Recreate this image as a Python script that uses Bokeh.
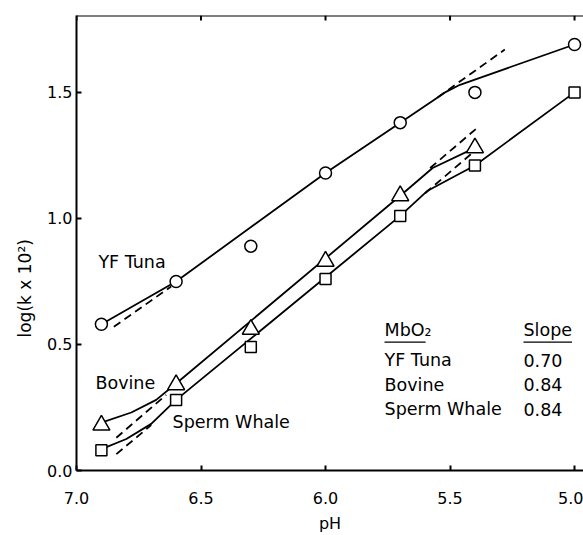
from bokeh.plotting import figure
from bokeh.models import Range1d, FixedTicker, Title, Span
from bokeh.core.properties import value
from bokeh.embed import file_html
from bokeh.resources import INLINE

FONT = "DejaVu Sans"

# ---- data ----
x_ticks = [7.0, 6.5, 6.0, 5.5, 5.0]
y_ticks = [0.0, 0.5, 1.0, 1.5]

tuna_ph = [6.9, 6.6, 6.3, 6.0, 5.7, 5.4, 5.0]
tuna_y = [0.58, 0.75, 0.89, 1.18, 1.38, 1.50, 1.69]
bovine_ph = [6.9, 6.6, 6.3, 6.0, 5.7, 5.4]
bovine_y = [0.18, 0.34, 0.56, 0.83, 1.09, 1.28]
whale_ph = [6.9, 6.6, 6.3, 6.0, 5.7, 5.4, 5.0]
whale_y = [0.08, 0.28, 0.49, 0.76, 1.01, 1.21, 1.50]

# hand-drawn solid curves
tuna_curve_ph = [6.9, 6.6, 6.0, 5.7, 5.52, 5.46, 5.0]
tuna_curve_y = [0.58, 0.75, 1.18, 1.38, 1.50, 1.53, 1.69]
bovine_curve_ph = [6.9, 6.78, 6.68, 6.6, 5.7, 5.57, 5.4]
bovine_curve_y = [0.19, 0.23, 0.28, 0.345, 1.09, 1.20, 1.28]
whale_curve_ph = [6.9, 6.8, 6.7, 6.6, 5.7, 5.59, 5.4, 5.0]
whale_curve_y = [0.085, 0.125, 0.185, 0.28, 1.01, 1.11, 1.21, 1.50]

# dashed slope lines (end pieces)
dash_ph = [[6.85, 6.62], [5.55, 5.28], [6.84, 6.64], [5.58, 5.39], [6.84, 6.70], [5.60, 5.41]]
dash_y = [[0.57, 0.73], [1.48, 1.67], [0.13, 0.30], [1.20, 1.36], [0.065, 0.18], [1.10, 1.26]]

species = ["YF Tuna", "Bovine", "Sperm Whale"]
slopes = ["0.70", "0.84", "0.84"]

Y_TOP = 1.805
p = figure(width=583, height=535, output_backend="svg", toolbar_location=None,
           x_range=Range1d(7.0, 4.964), y_range=Range1d(0.0, Y_TOP),
           min_border_left=76, min_border_right=0, min_border_top=15, min_border_bottom=65,
           background_fill_color="white", border_fill_color="white")
p.outline_line_color = None
p.grid.visible = False

for ax in (p.xaxis, p.yaxis):
    ax.axis_line_width = 2
    ax.axis_line_color = "black"
    ax.major_tick_line_width = 2
    ax.major_tick_in = 5
    ax.major_tick_out = 0
    ax.minor_tick_line_color = None
    ax.major_label_text_font = FONT
    ax.major_label_text_font_size = "16px"
    ax.major_label_text_color = "black"

p.xaxis.ticker = FixedTicker(ticks=x_ticks)
p.xaxis.major_label_overrides = {t: f"{t:.1f}" for t in x_ticks}
p.xaxis.major_label_standoff = 21
p.xaxis.axis_label = "pH"
p.xaxis.axis_label_text_font = FONT
p.xaxis.axis_label_text_font_size = "16px"
p.xaxis.axis_label_text_font_style = "normal"
p.xaxis.axis_label_text_color = "black"
p.xaxis.axis_label_standoff = 7

p.yaxis.ticker = FixedTicker(ticks=y_ticks)
p.yaxis.major_label_overrides = {t: f"{t:.1f}" for t in y_ticks}
p.yaxis.major_label_standoff = 4

# top frame line with inward ticks
p.add_layout(Span(location=Y_TOP, dimension="width", line_color="black", line_width=2))
p.segment(x0=x_ticks, y0=[Y_TOP] * len(x_ticks), x1=x_ticks,
          y1=[Y_TOP - 0.02] * len(x_ticks), line_color="black", line_width=2)

ylab = Title(text="log(k x 10²)", align="left", offset=133, standoff=20,
             text_font=FONT, text_font_size="17px", text_font_style="normal",
             text_color="black")
p.add_layout(ylab, "left")

# solid curves
for xs, ys in ((tuna_curve_ph, tuna_curve_y), (bovine_curve_ph, bovine_curve_y),
               (whale_curve_ph, whale_curve_y)):
    p.line(xs, ys, line_color="black", line_width=1.8)

p.multi_line(dash_ph, dash_y, line_color="black", line_width=1.8, line_dash="8 5")

p.scatter(tuna_ph, tuna_y, marker="circle", size=12, fill_color="white",
          line_color="black", line_width=1.5)
p.scatter(bovine_ph, bovine_y, marker="triangle", size=17, fill_color="white",
          line_color="black", line_width=1.5)
p.scatter(whale_ph, whale_y, marker="square", size=11, fill_color="white",
          line_color="black", line_width=1.5)

TS = "17.5px"
# curve labels
p.text(x=[6.912, 6.924, 6.614], y=[0.829, 0.349, 0.194], text=species,
       text_font=value(FONT), text_font_size=TS, text_baseline="middle",
       text_align="left", text_color="black")

# table
col1 = 5.763
col2 = 5.205
head_y = 0.556
row1_y = 0.437
step = 0.097
p.text(x=[col1, col2], y=[head_y, head_y], text=["MbO₂", "Slope"],
       text_font=value(FONT), text_font_size=TS, text_baseline="middle",
       text_align="left", text_color="black")
p.segment(x0=[col1, col2], y0=[head_y - 0.047] * 2, x1=[col1 - 0.165, col2 - 0.195],
          y1=[head_y - 0.047] * 2, line_color="black", line_width=1.3)
rows_y = [row1_y - i * step for i in range(len(species))]
p.text(x=[col1] * len(species), y=rows_y, text=species,
       text_font=value(FONT), text_font_size=TS, text_baseline="middle",
       text_align="left", text_color="black")
p.text(x=[col2] * len(slopes), y=rows_y, text=slopes,
       text_font=value(FONT), text_font_size=TS, text_baseline="middle",
       text_align="left", text_color="black")

open("out.html", "w").write(file_html(p, INLINE))
